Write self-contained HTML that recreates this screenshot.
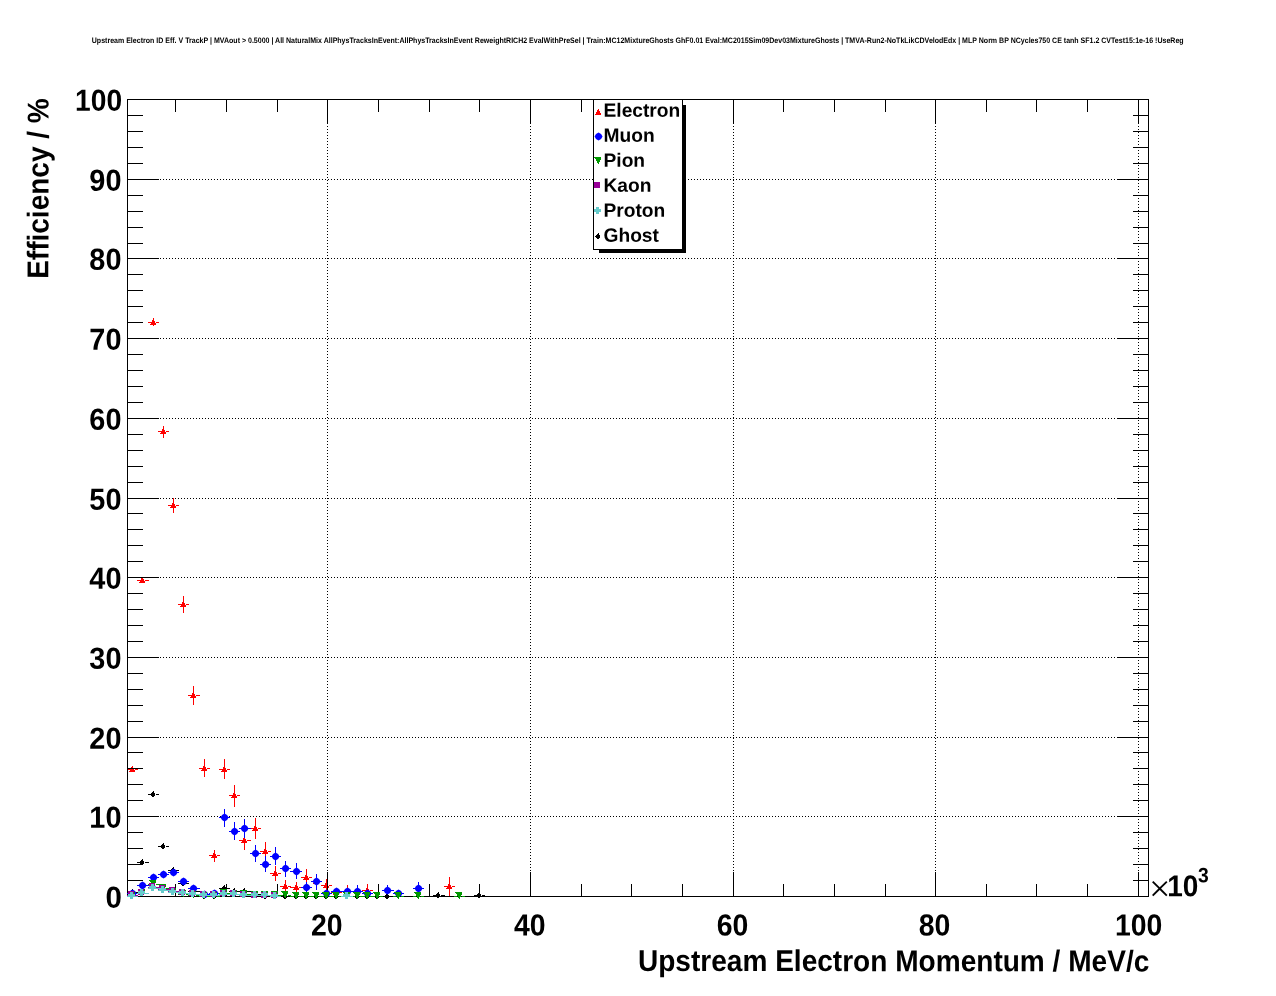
<!DOCTYPE html>
<html lang="en">
<head>
<meta charset="utf-8">
<title>Upstream Electron ID Efficiency vs Track Momentum</title>
<style>
html,body{margin:0;padding:0;background:#fff;}
body{width:1276px;height:996px;overflow:hidden;}
svg{display:block;}
text{font-family:"Liberation Sans",Arial,Helvetica,sans-serif;font-weight:bold;fill:#000;text-rendering:geometricPrecision;}
rect{shape-rendering:crispEdges;}
</style>
</head>
<body>
<svg width="1276" height="996" viewBox="0 0 1276 996">
<rect x="0" y="0" width="1276" height="996" fill="#fff"/>
<g stroke="#000" stroke-width="1" stroke-dasharray="1 2" shape-rendering="crispEdges"><line x1="160" y1="816.5" x2="1115" y2="816.5"/><line x1="160" y1="737.5" x2="1115" y2="737.5"/><line x1="160" y1="657.5" x2="1115" y2="657.5"/><line x1="160" y1="577.5" x2="1115" y2="577.5"/><line x1="160" y1="498.5" x2="1115" y2="498.5"/><line x1="160" y1="418.5" x2="1115" y2="418.5"/><line x1="160" y1="338.5" x2="1115" y2="338.5"/><line x1="160" y1="258.5" x2="1115" y2="258.5"/><line x1="160" y1="179.5" x2="1115" y2="179.5"/><line x1="327.5" y1="126" x2="327.5" y2="871"/><line x1="530.5" y1="126" x2="530.5" y2="871"/><line x1="733.5" y1="126" x2="733.5" y2="871"/><line x1="935.5" y1="126" x2="935.5" y2="871"/><line x1="1138.5" y1="126" x2="1138.5" y2="871"/></g>
<g id="electron">
<rect x="127" y="769" width="4" height="1" fill="#ff0000"/>
<rect x="135" y="769" width="3" height="1" fill="#ff0000"/>
<rect x="132" y="766" width="1" height="1" fill="#ff0000"/>
<path d="M131,767h2v1h-2zM131,768h3v1h-3zM131,769h3v1h-3zM130,770h5v1h-5zM129,771h6v1h-6z" fill="#ff0000" shape-rendering="crispEdges"/>
<rect x="137" y="580" width="4" height="1" fill="#ff0000"/>
<rect x="145" y="580" width="4" height="1" fill="#ff0000"/>
<path d="M141,578h2v1h-2zM141,579h3v1h-3zM141,580h3v1h-3zM140,581h5v1h-5zM139,582h6v1h-6z" fill="#ff0000" shape-rendering="crispEdges"/>
<rect x="148" y="322" width="4" height="1" fill="#ff0000"/>
<rect x="156" y="322" width="3" height="1" fill="#ff0000"/>
<rect x="153" y="318" width="1" height="2" fill="#ff0000"/>
<rect x="153" y="325" width="1" height="1" fill="#ff0000"/>
<path d="M152,320h2v1h-2zM152,321h3v1h-3zM152,322h3v1h-3zM151,323h5v1h-5zM150,324h6v1h-6z" fill="#ff0000" shape-rendering="crispEdges"/>
<rect x="158" y="431" width="4" height="1" fill="#ff0000"/>
<rect x="166" y="431" width="3" height="1" fill="#ff0000"/>
<rect x="163" y="426" width="1" height="3" fill="#ff0000"/>
<rect x="163" y="434" width="1" height="4" fill="#ff0000"/>
<path d="M162,429h2v1h-2zM162,430h3v1h-3zM162,431h3v1h-3zM161,432h5v1h-5zM160,433h6v1h-6z" fill="#ff0000" shape-rendering="crispEdges"/>
<rect x="168" y="505" width="4" height="1" fill="#ff0000"/>
<rect x="176" y="505" width="3" height="1" fill="#ff0000"/>
<rect x="173" y="498" width="1" height="5" fill="#ff0000"/>
<rect x="173" y="508" width="1" height="5" fill="#ff0000"/>
<path d="M172,503h2v1h-2zM172,504h3v1h-3zM172,505h3v1h-3zM171,506h5v1h-5zM170,507h6v1h-6z" fill="#ff0000" shape-rendering="crispEdges"/>
<rect x="178" y="604" width="4" height="1" fill="#ff0000"/>
<rect x="186" y="604" width="3" height="1" fill="#ff0000"/>
<rect x="183" y="596" width="1" height="6" fill="#ff0000"/>
<rect x="183" y="607" width="1" height="6" fill="#ff0000"/>
<path d="M182,602h2v1h-2zM182,603h3v1h-3zM182,604h3v1h-3zM181,605h5v1h-5zM180,606h6v1h-6z" fill="#ff0000" shape-rendering="crispEdges"/>
<rect x="188" y="695" width="4" height="1" fill="#ff0000"/>
<rect x="196" y="695" width="4" height="1" fill="#ff0000"/>
<rect x="193" y="686" width="1" height="7" fill="#ff0000"/>
<rect x="193" y="698" width="1" height="7" fill="#ff0000"/>
<path d="M192,693h2v1h-2zM192,694h3v1h-3zM192,695h3v1h-3zM191,696h5v1h-5zM190,697h6v1h-6z" fill="#ff0000" shape-rendering="crispEdges"/>
<rect x="199" y="768" width="4" height="1" fill="#ff0000"/>
<rect x="207" y="768" width="3" height="1" fill="#ff0000"/>
<rect x="204" y="759" width="1" height="7" fill="#ff0000"/>
<rect x="204" y="771" width="1" height="6" fill="#ff0000"/>
<path d="M203,766h2v1h-2zM203,767h3v1h-3zM203,768h3v1h-3zM202,769h5v1h-5zM201,770h6v1h-6z" fill="#ff0000" shape-rendering="crispEdges"/>
<rect x="209" y="855" width="4" height="1" fill="#ff0000"/>
<rect x="217" y="855" width="3" height="1" fill="#ff0000"/>
<rect x="214" y="850" width="1" height="3" fill="#ff0000"/>
<rect x="214" y="858" width="1" height="4" fill="#ff0000"/>
<path d="M213,853h2v1h-2zM213,854h3v1h-3zM213,855h3v1h-3zM212,856h5v1h-5zM211,857h6v1h-6z" fill="#ff0000" shape-rendering="crispEdges"/>
<rect x="219" y="769" width="4" height="1" fill="#ff0000"/>
<rect x="227" y="769" width="3" height="1" fill="#ff0000"/>
<rect x="224" y="759" width="1" height="8" fill="#ff0000"/>
<rect x="224" y="772" width="1" height="7" fill="#ff0000"/>
<path d="M223,767h2v1h-2zM223,768h3v1h-3zM223,769h3v1h-3zM222,770h5v1h-5zM221,771h6v1h-6z" fill="#ff0000" shape-rendering="crispEdges"/>
<rect x="229" y="795" width="4" height="1" fill="#ff0000"/>
<rect x="237" y="795" width="3" height="1" fill="#ff0000"/>
<rect x="234" y="785" width="1" height="8" fill="#ff0000"/>
<rect x="234" y="798" width="1" height="9" fill="#ff0000"/>
<path d="M233,793h2v1h-2zM233,794h3v1h-3zM233,795h3v1h-3zM232,796h5v1h-5zM231,797h6v1h-6z" fill="#ff0000" shape-rendering="crispEdges"/>
<rect x="239" y="840" width="4" height="1" fill="#ff0000"/>
<rect x="247" y="840" width="4" height="1" fill="#ff0000"/>
<rect x="244" y="832" width="1" height="6" fill="#ff0000"/>
<rect x="244" y="843" width="1" height="7" fill="#ff0000"/>
<path d="M243,838h2v1h-2zM243,839h3v1h-3zM243,840h3v1h-3zM242,841h5v1h-5zM241,842h6v1h-6z" fill="#ff0000" shape-rendering="crispEdges"/>
<rect x="250" y="828" width="4" height="1" fill="#ff0000"/>
<rect x="258" y="828" width="3" height="1" fill="#ff0000"/>
<rect x="255" y="818" width="1" height="8" fill="#ff0000"/>
<rect x="255" y="831" width="1" height="8" fill="#ff0000"/>
<path d="M254,826h2v1h-2zM254,827h3v1h-3zM254,828h3v1h-3zM253,829h5v1h-5zM252,830h6v1h-6z" fill="#ff0000" shape-rendering="crispEdges"/>
<rect x="260" y="851" width="4" height="1" fill="#ff0000"/>
<rect x="268" y="851" width="3" height="1" fill="#ff0000"/>
<rect x="265" y="842" width="1" height="7" fill="#ff0000"/>
<rect x="265" y="854" width="1" height="8" fill="#ff0000"/>
<path d="M264,849h2v1h-2zM264,850h3v1h-3zM264,851h3v1h-3zM263,852h5v1h-5zM262,853h6v1h-6z" fill="#ff0000" shape-rendering="crispEdges"/>
<rect x="270" y="873" width="4" height="1" fill="#ff0000"/>
<rect x="278" y="873" width="3" height="1" fill="#ff0000"/>
<rect x="275" y="866" width="1" height="5" fill="#ff0000"/>
<rect x="275" y="876" width="1" height="5" fill="#ff0000"/>
<path d="M274,871h2v1h-2zM274,872h3v1h-3zM274,873h3v1h-3zM273,874h5v1h-5zM272,875h6v1h-6z" fill="#ff0000" shape-rendering="crispEdges"/>
<rect x="280" y="886" width="4" height="1" fill="#ff0000"/>
<rect x="288" y="886" width="3" height="1" fill="#ff0000"/>
<rect x="285" y="880" width="1" height="4" fill="#ff0000"/>
<rect x="285" y="889" width="1" height="5" fill="#ff0000"/>
<path d="M284,884h2v1h-2zM284,885h3v1h-3zM284,886h3v1h-3zM283,887h5v1h-5zM282,888h6v1h-6z" fill="#ff0000" shape-rendering="crispEdges"/>
<rect x="290" y="887" width="5" height="1" fill="#ff0000"/>
<rect x="299" y="887" width="3" height="1" fill="#ff0000"/>
<rect x="296" y="882" width="1" height="3" fill="#ff0000"/>
<rect x="296" y="890" width="1" height="4" fill="#ff0000"/>
<path d="M295,885h2v1h-2zM295,886h3v1h-3zM295,887h3v1h-3zM294,888h5v1h-5zM293,889h6v1h-6z" fill="#ff0000" shape-rendering="crispEdges"/>
<rect x="301" y="877" width="4" height="1" fill="#ff0000"/>
<rect x="309" y="877" width="3" height="1" fill="#ff0000"/>
<rect x="306" y="869" width="1" height="6" fill="#ff0000"/>
<rect x="306" y="880" width="1" height="7" fill="#ff0000"/>
<path d="M305,875h2v1h-2zM305,876h3v1h-3zM305,877h3v1h-3zM304,878h5v1h-5zM303,879h6v1h-6z" fill="#ff0000" shape-rendering="crispEdges"/>
<rect x="311" y="881" width="4" height="1" fill="#ff0000"/>
<rect x="319" y="881" width="3" height="1" fill="#ff0000"/>
<rect x="316" y="874" width="1" height="5" fill="#ff0000"/>
<rect x="316" y="884" width="1" height="6" fill="#ff0000"/>
<path d="M315,879h2v1h-2zM315,880h3v1h-3zM315,881h3v1h-3zM314,882h5v1h-5zM313,883h6v1h-6z" fill="#ff0000" shape-rendering="crispEdges"/>
<rect x="321" y="885" width="4" height="1" fill="#ff0000"/>
<rect x="329" y="885" width="3" height="1" fill="#ff0000"/>
<rect x="326" y="879" width="1" height="4" fill="#ff0000"/>
<rect x="326" y="888" width="1" height="5" fill="#ff0000"/>
<path d="M325,883h2v1h-2zM325,884h3v1h-3zM325,885h3v1h-3zM324,886h5v1h-5zM323,887h6v1h-6z" fill="#ff0000" shape-rendering="crispEdges"/>
<rect x="331" y="892" width="4" height="1" fill="#ff0000"/>
<rect x="339" y="892" width="3" height="1" fill="#ff0000"/>
<rect x="336" y="889" width="1" height="1" fill="#ff0000"/>
<rect x="336" y="895" width="1" height="2" fill="#ff0000"/>
<path d="M335,890h2v1h-2zM335,891h3v1h-3zM335,892h3v1h-3zM334,893h5v1h-5zM333,894h6v1h-6z" fill="#ff0000" shape-rendering="crispEdges"/>
<rect x="341" y="891" width="5" height="1" fill="#ff0000"/>
<rect x="350" y="891" width="3" height="1" fill="#ff0000"/>
<rect x="347" y="885" width="1" height="4" fill="#ff0000"/>
<rect x="347" y="894" width="1" height="3" fill="#ff0000"/>
<path d="M346,889h2v1h-2zM346,890h3v1h-3zM346,891h3v1h-3zM345,892h5v1h-5zM344,893h6v1h-6z" fill="#ff0000" shape-rendering="crispEdges"/>
<rect x="362" y="890" width="4" height="1" fill="#ff0000"/>
<rect x="370" y="890" width="3" height="1" fill="#ff0000"/>
<rect x="367" y="884" width="1" height="4" fill="#ff0000"/>
<rect x="367" y="893" width="1" height="4" fill="#ff0000"/>
<path d="M366,888h2v1h-2zM366,889h3v1h-3zM366,890h3v1h-3zM365,891h5v1h-5zM364,892h6v1h-6z" fill="#ff0000" shape-rendering="crispEdges"/>
<rect x="444" y="886" width="4" height="1" fill="#ff0000"/>
<rect x="452" y="886" width="3" height="1" fill="#ff0000"/>
<rect x="449" y="877" width="1" height="7" fill="#ff0000"/>
<rect x="449" y="889" width="1" height="8" fill="#ff0000"/>
<path d="M448,884h2v1h-2zM448,885h3v1h-3zM448,886h3v1h-3zM447,887h5v1h-5zM446,888h6v1h-6z" fill="#ff0000" shape-rendering="crispEdges"/>
</g>
<g id="frame">
<rect x="127" y="99" width="1022" height="1" fill="#000"/>
<rect x="127" y="896" width="1022" height="1" fill="#000"/>
<rect x="127" y="99" width="1" height="798" fill="#000"/>
<rect x="1148" y="99" width="1" height="798" fill="#000"/>
<rect x="127" y="880" width="16" height="1" fill="#000"/>
<rect x="1133" y="880" width="16" height="1" fill="#000"/>
<rect x="127" y="864" width="16" height="1" fill="#000"/>
<rect x="1133" y="864" width="16" height="1" fill="#000"/>
<rect x="127" y="848" width="16" height="1" fill="#000"/>
<rect x="1133" y="848" width="16" height="1" fill="#000"/>
<rect x="127" y="832" width="16" height="1" fill="#000"/>
<rect x="1133" y="832" width="16" height="1" fill="#000"/>
<rect x="127" y="816" width="32" height="1" fill="#000"/>
<rect x="1117" y="816" width="32" height="1" fill="#000"/>
<rect x="127" y="800" width="16" height="1" fill="#000"/>
<rect x="1133" y="800" width="16" height="1" fill="#000"/>
<rect x="127" y="784" width="16" height="1" fill="#000"/>
<rect x="1133" y="784" width="16" height="1" fill="#000"/>
<rect x="127" y="768" width="16" height="1" fill="#000"/>
<rect x="1133" y="768" width="16" height="1" fill="#000"/>
<rect x="127" y="752" width="16" height="1" fill="#000"/>
<rect x="1133" y="752" width="16" height="1" fill="#000"/>
<rect x="127" y="737" width="32" height="1" fill="#000"/>
<rect x="1117" y="737" width="32" height="1" fill="#000"/>
<rect x="127" y="721" width="16" height="1" fill="#000"/>
<rect x="1133" y="721" width="16" height="1" fill="#000"/>
<rect x="127" y="705" width="16" height="1" fill="#000"/>
<rect x="1133" y="705" width="16" height="1" fill="#000"/>
<rect x="127" y="689" width="16" height="1" fill="#000"/>
<rect x="1133" y="689" width="16" height="1" fill="#000"/>
<rect x="127" y="673" width="16" height="1" fill="#000"/>
<rect x="1133" y="673" width="16" height="1" fill="#000"/>
<rect x="127" y="657" width="32" height="1" fill="#000"/>
<rect x="1117" y="657" width="32" height="1" fill="#000"/>
<rect x="127" y="641" width="16" height="1" fill="#000"/>
<rect x="1133" y="641" width="16" height="1" fill="#000"/>
<rect x="127" y="625" width="16" height="1" fill="#000"/>
<rect x="1133" y="625" width="16" height="1" fill="#000"/>
<rect x="127" y="609" width="16" height="1" fill="#000"/>
<rect x="1133" y="609" width="16" height="1" fill="#000"/>
<rect x="127" y="593" width="16" height="1" fill="#000"/>
<rect x="1133" y="593" width="16" height="1" fill="#000"/>
<rect x="127" y="577" width="32" height="1" fill="#000"/>
<rect x="1117" y="577" width="32" height="1" fill="#000"/>
<rect x="127" y="561" width="16" height="1" fill="#000"/>
<rect x="1133" y="561" width="16" height="1" fill="#000"/>
<rect x="127" y="545" width="16" height="1" fill="#000"/>
<rect x="1133" y="545" width="16" height="1" fill="#000"/>
<rect x="127" y="529" width="16" height="1" fill="#000"/>
<rect x="1133" y="529" width="16" height="1" fill="#000"/>
<rect x="127" y="513" width="16" height="1" fill="#000"/>
<rect x="1133" y="513" width="16" height="1" fill="#000"/>
<rect x="127" y="498" width="32" height="1" fill="#000"/>
<rect x="1117" y="498" width="32" height="1" fill="#000"/>
<rect x="127" y="482" width="16" height="1" fill="#000"/>
<rect x="1133" y="482" width="16" height="1" fill="#000"/>
<rect x="127" y="466" width="16" height="1" fill="#000"/>
<rect x="1133" y="466" width="16" height="1" fill="#000"/>
<rect x="127" y="450" width="16" height="1" fill="#000"/>
<rect x="1133" y="450" width="16" height="1" fill="#000"/>
<rect x="127" y="434" width="16" height="1" fill="#000"/>
<rect x="1133" y="434" width="16" height="1" fill="#000"/>
<rect x="127" y="418" width="32" height="1" fill="#000"/>
<rect x="1117" y="418" width="32" height="1" fill="#000"/>
<rect x="127" y="402" width="16" height="1" fill="#000"/>
<rect x="1133" y="402" width="16" height="1" fill="#000"/>
<rect x="127" y="386" width="16" height="1" fill="#000"/>
<rect x="1133" y="386" width="16" height="1" fill="#000"/>
<rect x="127" y="370" width="16" height="1" fill="#000"/>
<rect x="1133" y="370" width="16" height="1" fill="#000"/>
<rect x="127" y="354" width="16" height="1" fill="#000"/>
<rect x="1133" y="354" width="16" height="1" fill="#000"/>
<rect x="127" y="338" width="32" height="1" fill="#000"/>
<rect x="1117" y="338" width="32" height="1" fill="#000"/>
<rect x="127" y="322" width="16" height="1" fill="#000"/>
<rect x="1133" y="322" width="16" height="1" fill="#000"/>
<rect x="127" y="306" width="16" height="1" fill="#000"/>
<rect x="1133" y="306" width="16" height="1" fill="#000"/>
<rect x="127" y="290" width="16" height="1" fill="#000"/>
<rect x="1133" y="290" width="16" height="1" fill="#000"/>
<rect x="127" y="274" width="16" height="1" fill="#000"/>
<rect x="1133" y="274" width="16" height="1" fill="#000"/>
<rect x="127" y="258" width="32" height="1" fill="#000"/>
<rect x="1117" y="258" width="32" height="1" fill="#000"/>
<rect x="127" y="243" width="16" height="1" fill="#000"/>
<rect x="1133" y="243" width="16" height="1" fill="#000"/>
<rect x="127" y="227" width="16" height="1" fill="#000"/>
<rect x="1133" y="227" width="16" height="1" fill="#000"/>
<rect x="127" y="211" width="16" height="1" fill="#000"/>
<rect x="1133" y="211" width="16" height="1" fill="#000"/>
<rect x="127" y="195" width="16" height="1" fill="#000"/>
<rect x="1133" y="195" width="16" height="1" fill="#000"/>
<rect x="127" y="179" width="32" height="1" fill="#000"/>
<rect x="1117" y="179" width="32" height="1" fill="#000"/>
<rect x="127" y="163" width="16" height="1" fill="#000"/>
<rect x="1133" y="163" width="16" height="1" fill="#000"/>
<rect x="127" y="147" width="16" height="1" fill="#000"/>
<rect x="1133" y="147" width="16" height="1" fill="#000"/>
<rect x="127" y="131" width="16" height="1" fill="#000"/>
<rect x="1133" y="131" width="16" height="1" fill="#000"/>
<rect x="127" y="115" width="16" height="1" fill="#000"/>
<rect x="1133" y="115" width="16" height="1" fill="#000"/>
<rect x="175" y="884" width="1" height="13" fill="#000"/>
<rect x="175" y="99" width="1" height="13" fill="#000"/>
<rect x="226" y="884" width="1" height="13" fill="#000"/>
<rect x="226" y="99" width="1" height="13" fill="#000"/>
<rect x="277" y="884" width="1" height="13" fill="#000"/>
<rect x="277" y="99" width="1" height="13" fill="#000"/>
<rect x="327" y="872" width="1" height="25" fill="#000"/>
<rect x="327" y="99" width="1" height="25" fill="#000"/>
<rect x="378" y="884" width="1" height="13" fill="#000"/>
<rect x="378" y="99" width="1" height="13" fill="#000"/>
<rect x="429" y="884" width="1" height="13" fill="#000"/>
<rect x="429" y="99" width="1" height="13" fill="#000"/>
<rect x="479" y="884" width="1" height="13" fill="#000"/>
<rect x="479" y="99" width="1" height="13" fill="#000"/>
<rect x="530" y="872" width="1" height="25" fill="#000"/>
<rect x="530" y="99" width="1" height="25" fill="#000"/>
<rect x="581" y="884" width="1" height="13" fill="#000"/>
<rect x="581" y="99" width="1" height="13" fill="#000"/>
<rect x="631" y="884" width="1" height="13" fill="#000"/>
<rect x="631" y="99" width="1" height="13" fill="#000"/>
<rect x="682" y="884" width="1" height="13" fill="#000"/>
<rect x="682" y="99" width="1" height="13" fill="#000"/>
<rect x="733" y="872" width="1" height="25" fill="#000"/>
<rect x="733" y="99" width="1" height="25" fill="#000"/>
<rect x="783" y="884" width="1" height="13" fill="#000"/>
<rect x="783" y="99" width="1" height="13" fill="#000"/>
<rect x="834" y="884" width="1" height="13" fill="#000"/>
<rect x="834" y="99" width="1" height="13" fill="#000"/>
<rect x="885" y="884" width="1" height="13" fill="#000"/>
<rect x="885" y="99" width="1" height="13" fill="#000"/>
<rect x="935" y="872" width="1" height="25" fill="#000"/>
<rect x="935" y="99" width="1" height="25" fill="#000"/>
<rect x="986" y="884" width="1" height="13" fill="#000"/>
<rect x="986" y="99" width="1" height="13" fill="#000"/>
<rect x="1036" y="884" width="1" height="13" fill="#000"/>
<rect x="1036" y="99" width="1" height="13" fill="#000"/>
<rect x="1087" y="884" width="1" height="13" fill="#000"/>
<rect x="1087" y="99" width="1" height="13" fill="#000"/>
<rect x="1138" y="872" width="1" height="25" fill="#000"/>
<rect x="1138" y="99" width="1" height="25" fill="#000"/>
</g>
<g id="ghost">
<rect x="127" y="892" width="3" height="1" fill="#000000"/>
<rect x="135" y="892" width="3" height="1" fill="#000000"/>
<path d="M132,889h1v1h-1zM131,890h2v1h-2zM130,891h4v1h-4zM130,892h4v1h-4zM130,893h4v1h-4zM131,894h2v1h-2z" fill="#000000" shape-rendering="crispEdges"/>
<rect x="137" y="862" width="3" height="1" fill="#000000"/>
<rect x="145" y="862" width="4" height="1" fill="#000000"/>
<path d="M142,859h1v1h-1zM141,860h2v1h-2zM140,861h4v1h-4zM140,862h4v1h-4zM140,863h4v1h-4zM141,864h2v1h-2z" fill="#000000" shape-rendering="crispEdges"/>
<rect x="148" y="794" width="3" height="1" fill="#000000"/>
<rect x="156" y="794" width="3" height="1" fill="#000000"/>
<path d="M153,791h1v1h-1zM152,792h2v1h-2zM151,793h4v1h-4zM151,794h4v1h-4zM151,795h4v1h-4zM152,796h2v1h-2z" fill="#000000" shape-rendering="crispEdges"/>
<rect x="158" y="846" width="3" height="1" fill="#000000"/>
<rect x="166" y="846" width="3" height="1" fill="#000000"/>
<path d="M163,843h1v1h-1zM162,844h2v1h-2zM161,845h4v1h-4zM161,846h4v1h-4zM161,847h4v1h-4zM162,848h2v1h-2z" fill="#000000" shape-rendering="crispEdges"/>
<rect x="168" y="870" width="3" height="1" fill="#000000"/>
<rect x="176" y="870" width="3" height="1" fill="#000000"/>
<path d="M173,867h1v1h-1zM172,868h2v1h-2zM171,869h4v1h-4zM171,870h4v1h-4zM171,871h4v1h-4zM172,872h2v1h-2z" fill="#000000" shape-rendering="crispEdges"/>
<rect x="178" y="883" width="3" height="1" fill="#000000"/>
<rect x="186" y="883" width="3" height="1" fill="#000000"/>
<path d="M183,880h1v1h-1zM182,881h2v1h-2zM181,882h4v1h-4zM181,883h4v1h-4zM181,884h4v1h-4zM182,885h2v1h-2z" fill="#000000" shape-rendering="crispEdges"/>
<rect x="188" y="891" width="3" height="1" fill="#000000"/>
<rect x="196" y="891" width="4" height="1" fill="#000000"/>
<path d="M193,888h1v1h-1zM192,889h2v1h-2zM191,890h4v1h-4zM191,891h4v1h-4zM191,892h4v1h-4zM192,893h2v1h-2z" fill="#000000" shape-rendering="crispEdges"/>
<rect x="199" y="896" width="3" height="1" fill="#000000"/>
<rect x="207" y="896" width="3" height="1" fill="#000000"/>
<path d="M204,893h1v1h-1zM203,894h2v1h-2zM202,895h4v1h-4zM202,896h4v1h-4zM202,897h4v1h-4zM203,898h2v1h-2z" fill="#000000" shape-rendering="crispEdges"/>
<rect x="209" y="896" width="3" height="1" fill="#000000"/>
<rect x="217" y="896" width="3" height="1" fill="#000000"/>
<path d="M214,893h1v1h-1zM213,894h2v1h-2zM212,895h4v1h-4zM212,896h4v1h-4zM212,897h4v1h-4zM213,898h2v1h-2z" fill="#000000" shape-rendering="crispEdges"/>
<rect x="219" y="888" width="3" height="1" fill="#000000"/>
<rect x="227" y="888" width="3" height="1" fill="#000000"/>
<path d="M224,885h1v1h-1zM223,886h2v1h-2zM222,887h4v1h-4zM222,888h4v1h-4zM222,889h4v1h-4zM223,890h2v1h-2z" fill="#000000" shape-rendering="crispEdges"/>
<rect x="229" y="891" width="3" height="1" fill="#000000"/>
<rect x="237" y="891" width="3" height="1" fill="#000000"/>
<path d="M234,888h1v1h-1zM233,889h2v1h-2zM232,890h4v1h-4zM232,891h4v1h-4zM232,892h4v1h-4zM233,893h2v1h-2z" fill="#000000" shape-rendering="crispEdges"/>
<rect x="239" y="891" width="3" height="1" fill="#000000"/>
<rect x="247" y="891" width="4" height="1" fill="#000000"/>
<path d="M244,888h1v1h-1zM243,889h2v1h-2zM242,890h4v1h-4zM242,891h4v1h-4zM242,892h4v1h-4zM243,893h2v1h-2z" fill="#000000" shape-rendering="crispEdges"/>
<rect x="250" y="894" width="3" height="1" fill="#000000"/>
<rect x="258" y="894" width="3" height="1" fill="#000000"/>
<path d="M255,891h1v1h-1zM254,892h2v1h-2zM253,893h4v1h-4zM253,894h4v1h-4zM253,895h4v1h-4zM254,896h2v1h-2z" fill="#000000" shape-rendering="crispEdges"/>
<rect x="260" y="896" width="3" height="1" fill="#000000"/>
<rect x="268" y="896" width="3" height="1" fill="#000000"/>
<path d="M265,893h1v1h-1zM264,894h2v1h-2zM263,895h4v1h-4zM263,896h4v1h-4zM263,897h4v1h-4zM264,898h2v1h-2z" fill="#000000" shape-rendering="crispEdges"/>
<rect x="270" y="896" width="3" height="1" fill="#000000"/>
<rect x="278" y="896" width="3" height="1" fill="#000000"/>
<path d="M275,893h1v1h-1zM274,894h2v1h-2zM273,895h4v1h-4zM273,896h4v1h-4zM273,897h4v1h-4zM274,898h2v1h-2z" fill="#000000" shape-rendering="crispEdges"/>
<rect x="280" y="896" width="3" height="1" fill="#000000"/>
<rect x="288" y="896" width="3" height="1" fill="#000000"/>
<path d="M285,893h1v1h-1zM284,894h2v1h-2zM283,895h4v1h-4zM283,896h4v1h-4zM283,897h4v1h-4zM284,898h2v1h-2z" fill="#000000" shape-rendering="crispEdges"/>
<rect x="290" y="896" width="4" height="1" fill="#000000"/>
<rect x="299" y="896" width="3" height="1" fill="#000000"/>
<path d="M296,893h1v1h-1zM295,894h2v1h-2zM294,895h4v1h-4zM294,896h4v1h-4zM294,897h4v1h-4zM295,898h2v1h-2z" fill="#000000" shape-rendering="crispEdges"/>
<rect x="301" y="896" width="3" height="1" fill="#000000"/>
<rect x="309" y="896" width="3" height="1" fill="#000000"/>
<path d="M306,893h1v1h-1zM305,894h2v1h-2zM304,895h4v1h-4zM304,896h4v1h-4zM304,897h4v1h-4zM305,898h2v1h-2z" fill="#000000" shape-rendering="crispEdges"/>
<rect x="311" y="896" width="3" height="1" fill="#000000"/>
<rect x="319" y="896" width="3" height="1" fill="#000000"/>
<path d="M316,893h1v1h-1zM315,894h2v1h-2zM314,895h4v1h-4zM314,896h4v1h-4zM314,897h4v1h-4zM315,898h2v1h-2z" fill="#000000" shape-rendering="crispEdges"/>
<rect x="321" y="896" width="3" height="1" fill="#000000"/>
<rect x="329" y="896" width="3" height="1" fill="#000000"/>
<path d="M326,893h1v1h-1zM325,894h2v1h-2zM324,895h4v1h-4zM324,896h4v1h-4zM324,897h4v1h-4zM325,898h2v1h-2z" fill="#000000" shape-rendering="crispEdges"/>
<rect x="331" y="896" width="3" height="1" fill="#000000"/>
<rect x="339" y="896" width="3" height="1" fill="#000000"/>
<path d="M336,893h1v1h-1zM335,894h2v1h-2zM334,895h4v1h-4zM334,896h4v1h-4zM334,897h4v1h-4zM335,898h2v1h-2z" fill="#000000" shape-rendering="crispEdges"/>
<rect x="352" y="896" width="3" height="1" fill="#000000"/>
<rect x="360" y="896" width="3" height="1" fill="#000000"/>
<path d="M357,893h1v1h-1zM356,894h2v1h-2zM355,895h4v1h-4zM355,896h4v1h-4zM355,897h4v1h-4zM356,898h2v1h-2z" fill="#000000" shape-rendering="crispEdges"/>
<rect x="362" y="896" width="3" height="1" fill="#000000"/>
<rect x="370" y="896" width="3" height="1" fill="#000000"/>
<path d="M367,893h1v1h-1zM366,894h2v1h-2zM365,895h4v1h-4zM365,896h4v1h-4zM365,897h4v1h-4zM366,898h2v1h-2z" fill="#000000" shape-rendering="crispEdges"/>
<rect x="372" y="896" width="3" height="1" fill="#000000"/>
<rect x="380" y="896" width="3" height="1" fill="#000000"/>
<path d="M377,893h1v1h-1zM376,894h2v1h-2zM375,895h4v1h-4zM375,896h4v1h-4zM375,897h4v1h-4zM376,898h2v1h-2z" fill="#000000" shape-rendering="crispEdges"/>
<rect x="382" y="896" width="3" height="1" fill="#000000"/>
<rect x="390" y="896" width="4" height="1" fill="#000000"/>
<path d="M387,893h1v1h-1zM386,894h2v1h-2zM385,895h4v1h-4zM385,896h4v1h-4zM385,897h4v1h-4zM386,898h2v1h-2z" fill="#000000" shape-rendering="crispEdges"/>
<rect x="433" y="895" width="3" height="1" fill="#000000"/>
<rect x="441" y="895" width="4" height="1" fill="#000000"/>
<path d="M438,892h1v1h-1zM437,893h2v1h-2zM436,894h4v1h-4zM436,895h4v1h-4zM436,896h4v1h-4zM437,897h2v1h-2z" fill="#000000" shape-rendering="crispEdges"/>
<rect x="474" y="895" width="3" height="1" fill="#000000"/>
<rect x="482" y="895" width="3" height="1" fill="#000000"/>
<path d="M479,892h1v1h-1zM478,893h2v1h-2zM477,894h4v1h-4zM477,895h4v1h-4zM477,896h4v1h-4zM478,897h2v1h-2z" fill="#000000" shape-rendering="crispEdges"/>
</g><g id="muon">
<rect x="127" y="893" width="2" height="1" fill="#0000ff"/>
<rect x="136" y="893" width="2" height="1" fill="#0000ff"/>
<path transform="translate(132.55,893.40)" d="M0,-4.0Q3.05,-3.05 4.0,0Q3.05,3.05 0,4.0Q-3.05,3.05 -4.0,0Q-3.05,-3.05 0,-4.0z" fill="#0000ff"/>
<rect x="137" y="885" width="2" height="1" fill="#0000ff"/>
<rect x="146" y="885" width="3" height="1" fill="#0000ff"/>
<path transform="translate(142.55,885.40)" d="M0,-4.0Q3.05,-3.05 4.0,0Q3.05,3.05 0,4.0Q-3.05,3.05 -4.0,0Q-3.05,-3.05 0,-4.0z" fill="#0000ff"/>
<rect x="148" y="877" width="2" height="1" fill="#0000ff"/>
<rect x="157" y="877" width="2" height="1" fill="#0000ff"/>
<path transform="translate(153.55,877.40)" d="M0,-4.0Q3.05,-3.05 4.0,0Q3.05,3.05 0,4.0Q-3.05,3.05 -4.0,0Q-3.05,-3.05 0,-4.0z" fill="#0000ff"/>
<rect x="158" y="874" width="2" height="1" fill="#0000ff"/>
<rect x="167" y="874" width="2" height="1" fill="#0000ff"/>
<path transform="translate(163.55,874.40)" d="M0,-4.0Q3.05,-3.05 4.0,0Q3.05,3.05 0,4.0Q-3.05,3.05 -4.0,0Q-3.05,-3.05 0,-4.0z" fill="#0000ff"/>
<rect x="168" y="872" width="2" height="1" fill="#0000ff"/>
<rect x="177" y="872" width="2" height="1" fill="#0000ff"/>
<path transform="translate(173.55,872.40)" d="M0,-4.0Q3.05,-3.05 4.0,0Q3.05,3.05 0,4.0Q-3.05,3.05 -4.0,0Q-3.05,-3.05 0,-4.0z" fill="#0000ff"/>
<rect x="178" y="881" width="2" height="1" fill="#0000ff"/>
<rect x="187" y="881" width="2" height="1" fill="#0000ff"/>
<path transform="translate(183.55,881.40)" d="M0,-4.0Q3.05,-3.05 4.0,0Q3.05,3.05 0,4.0Q-3.05,3.05 -4.0,0Q-3.05,-3.05 0,-4.0z" fill="#0000ff"/>
<rect x="188" y="888" width="2" height="1" fill="#0000ff"/>
<rect x="197" y="888" width="3" height="1" fill="#0000ff"/>
<path transform="translate(193.55,888.40)" d="M0,-4.0Q3.05,-3.05 4.0,0Q3.05,3.05 0,4.0Q-3.05,3.05 -4.0,0Q-3.05,-3.05 0,-4.0z" fill="#0000ff"/>
<rect x="199" y="894" width="2" height="1" fill="#0000ff"/>
<rect x="208" y="894" width="2" height="1" fill="#0000ff"/>
<path transform="translate(204.55,894.40)" d="M0,-4.0Q3.05,-3.05 4.0,0Q3.05,3.05 0,4.0Q-3.05,3.05 -4.0,0Q-3.05,-3.05 0,-4.0z" fill="#0000ff"/>
<rect x="209" y="893" width="2" height="1" fill="#0000ff"/>
<rect x="218" y="893" width="2" height="1" fill="#0000ff"/>
<path transform="translate(214.55,893.40)" d="M0,-4.0Q3.05,-3.05 4.0,0Q3.05,3.05 0,4.0Q-3.05,3.05 -4.0,0Q-3.05,-3.05 0,-4.0z" fill="#0000ff"/>
<rect x="219" y="817" width="2" height="1" fill="#0000ff"/>
<rect x="228" y="817" width="2" height="1" fill="#0000ff"/>
<rect x="224" y="809" width="1" height="5" fill="#0000ff"/>
<rect x="224" y="821" width="1" height="6" fill="#0000ff"/>
<path transform="translate(224.55,817.40)" d="M0,-4.0Q3.05,-3.05 4.0,0Q3.05,3.05 0,4.0Q-3.05,3.05 -4.0,0Q-3.05,-3.05 0,-4.0z" fill="#0000ff"/>
<rect x="229" y="831" width="2" height="1" fill="#0000ff"/>
<rect x="238" y="831" width="2" height="1" fill="#0000ff"/>
<rect x="234" y="822" width="1" height="6" fill="#0000ff"/>
<rect x="234" y="835" width="1" height="5" fill="#0000ff"/>
<path transform="translate(234.55,831.40)" d="M0,-4.0Q3.05,-3.05 4.0,0Q3.05,3.05 0,4.0Q-3.05,3.05 -4.0,0Q-3.05,-3.05 0,-4.0z" fill="#0000ff"/>
<rect x="239" y="828" width="2" height="1" fill="#0000ff"/>
<rect x="248" y="828" width="3" height="1" fill="#0000ff"/>
<rect x="244" y="819" width="1" height="6" fill="#0000ff"/>
<rect x="244" y="832" width="1" height="6" fill="#0000ff"/>
<path transform="translate(244.55,828.40)" d="M0,-4.0Q3.05,-3.05 4.0,0Q3.05,3.05 0,4.0Q-3.05,3.05 -4.0,0Q-3.05,-3.05 0,-4.0z" fill="#0000ff"/>
<rect x="250" y="853" width="2" height="1" fill="#0000ff"/>
<rect x="259" y="853" width="2" height="1" fill="#0000ff"/>
<rect x="255" y="845" width="1" height="5" fill="#0000ff"/>
<rect x="255" y="857" width="1" height="5" fill="#0000ff"/>
<path transform="translate(255.55,853.40)" d="M0,-4.0Q3.05,-3.05 4.0,0Q3.05,3.05 0,4.0Q-3.05,3.05 -4.0,0Q-3.05,-3.05 0,-4.0z" fill="#0000ff"/>
<rect x="260" y="864" width="2" height="1" fill="#0000ff"/>
<rect x="269" y="864" width="2" height="1" fill="#0000ff"/>
<rect x="265" y="856" width="1" height="5" fill="#0000ff"/>
<rect x="265" y="868" width="1" height="4" fill="#0000ff"/>
<path transform="translate(265.55,864.40)" d="M0,-4.0Q3.05,-3.05 4.0,0Q3.05,3.05 0,4.0Q-3.05,3.05 -4.0,0Q-3.05,-3.05 0,-4.0z" fill="#0000ff"/>
<rect x="270" y="856" width="2" height="1" fill="#0000ff"/>
<rect x="279" y="856" width="2" height="1" fill="#0000ff"/>
<rect x="275" y="847" width="1" height="6" fill="#0000ff"/>
<rect x="275" y="860" width="1" height="5" fill="#0000ff"/>
<path transform="translate(275.55,856.40)" d="M0,-4.0Q3.05,-3.05 4.0,0Q3.05,3.05 0,4.0Q-3.05,3.05 -4.0,0Q-3.05,-3.05 0,-4.0z" fill="#0000ff"/>
<rect x="280" y="868" width="2" height="1" fill="#0000ff"/>
<rect x="289" y="868" width="2" height="1" fill="#0000ff"/>
<rect x="285" y="861" width="1" height="4" fill="#0000ff"/>
<rect x="285" y="872" width="1" height="5" fill="#0000ff"/>
<path transform="translate(285.55,868.40)" d="M0,-4.0Q3.05,-3.05 4.0,0Q3.05,3.05 0,4.0Q-3.05,3.05 -4.0,0Q-3.05,-3.05 0,-4.0z" fill="#0000ff"/>
<rect x="290" y="871" width="3" height="1" fill="#0000ff"/>
<rect x="300" y="871" width="2" height="1" fill="#0000ff"/>
<rect x="296" y="863" width="1" height="5" fill="#0000ff"/>
<rect x="296" y="875" width="1" height="4" fill="#0000ff"/>
<path transform="translate(296.55,871.40)" d="M0,-4.0Q3.05,-3.05 4.0,0Q3.05,3.05 0,4.0Q-3.05,3.05 -4.0,0Q-3.05,-3.05 0,-4.0z" fill="#0000ff"/>
<rect x="301" y="887" width="2" height="1" fill="#0000ff"/>
<rect x="310" y="887" width="2" height="1" fill="#0000ff"/>
<rect x="306" y="882" width="1" height="2" fill="#0000ff"/>
<rect x="306" y="891" width="1" height="2" fill="#0000ff"/>
<path transform="translate(306.55,887.40)" d="M0,-4.0Q3.05,-3.05 4.0,0Q3.05,3.05 0,4.0Q-3.05,3.05 -4.0,0Q-3.05,-3.05 0,-4.0z" fill="#0000ff"/>
<rect x="311" y="881" width="2" height="1" fill="#0000ff"/>
<rect x="320" y="881" width="2" height="1" fill="#0000ff"/>
<rect x="316" y="874" width="1" height="4" fill="#0000ff"/>
<rect x="316" y="885" width="1" height="5" fill="#0000ff"/>
<path transform="translate(316.55,881.40)" d="M0,-4.0Q3.05,-3.05 4.0,0Q3.05,3.05 0,4.0Q-3.05,3.05 -4.0,0Q-3.05,-3.05 0,-4.0z" fill="#0000ff"/>
<rect x="321" y="893" width="2" height="1" fill="#0000ff"/>
<rect x="330" y="893" width="2" height="1" fill="#0000ff"/>
<path transform="translate(326.55,893.40)" d="M0,-4.0Q3.05,-3.05 4.0,0Q3.05,3.05 0,4.0Q-3.05,3.05 -4.0,0Q-3.05,-3.05 0,-4.0z" fill="#0000ff"/>
<rect x="331" y="891" width="2" height="1" fill="#0000ff"/>
<rect x="340" y="891" width="2" height="1" fill="#0000ff"/>
<path transform="translate(336.55,891.40)" d="M0,-4.0Q3.05,-3.05 4.0,0Q3.05,3.05 0,4.0Q-3.05,3.05 -4.0,0Q-3.05,-3.05 0,-4.0z" fill="#0000ff"/>
<rect x="341" y="891" width="3" height="1" fill="#0000ff"/>
<rect x="351" y="891" width="2" height="1" fill="#0000ff"/>
<path transform="translate(347.55,891.40)" d="M0,-4.0Q3.05,-3.05 4.0,0Q3.05,3.05 0,4.0Q-3.05,3.05 -4.0,0Q-3.05,-3.05 0,-4.0z" fill="#0000ff"/>
<rect x="352" y="891" width="2" height="1" fill="#0000ff"/>
<rect x="361" y="891" width="2" height="1" fill="#0000ff"/>
<rect x="357" y="885" width="1" height="3" fill="#0000ff"/>
<rect x="357" y="895" width="1" height="2" fill="#0000ff"/>
<path transform="translate(357.55,891.40)" d="M0,-4.0Q3.05,-3.05 4.0,0Q3.05,3.05 0,4.0Q-3.05,3.05 -4.0,0Q-3.05,-3.05 0,-4.0z" fill="#0000ff"/>
<rect x="362" y="893" width="2" height="1" fill="#0000ff"/>
<rect x="371" y="893" width="2" height="1" fill="#0000ff"/>
<path transform="translate(367.55,893.40)" d="M0,-4.0Q3.05,-3.05 4.0,0Q3.05,3.05 0,4.0Q-3.05,3.05 -4.0,0Q-3.05,-3.05 0,-4.0z" fill="#0000ff"/>
<rect x="382" y="890" width="2" height="1" fill="#0000ff"/>
<rect x="391" y="890" width="3" height="1" fill="#0000ff"/>
<rect x="387" y="885" width="1" height="2" fill="#0000ff"/>
<path transform="translate(387.55,890.40)" d="M0,-4.0Q3.05,-3.05 4.0,0Q3.05,3.05 0,4.0Q-3.05,3.05 -4.0,0Q-3.05,-3.05 0,-4.0z" fill="#0000ff"/>
<rect x="393" y="893" width="2" height="1" fill="#0000ff"/>
<rect x="402" y="893" width="2" height="1" fill="#0000ff"/>
<path transform="translate(398.55,893.40)" d="M0,-4.0Q3.05,-3.05 4.0,0Q3.05,3.05 0,4.0Q-3.05,3.05 -4.0,0Q-3.05,-3.05 0,-4.0z" fill="#0000ff"/>
<rect x="413" y="888" width="2" height="1" fill="#0000ff"/>
<rect x="422" y="888" width="2" height="1" fill="#0000ff"/>
<rect x="418" y="882" width="1" height="3" fill="#0000ff"/>
<rect x="418" y="892" width="1" height="3" fill="#0000ff"/>
<path transform="translate(418.55,888.40)" d="M0,-4.0Q3.05,-3.05 4.0,0Q3.05,3.05 0,4.0Q-3.05,3.05 -4.0,0Q-3.05,-3.05 0,-4.0z" fill="#0000ff"/>
</g><g id="pion">
<rect x="127" y="896" width="3" height="1" fill="#009900"/>
<rect x="135" y="896" width="3" height="1" fill="#009900"/>
<path d="M128,892h7v1h-7zM129,893h6v1h-6zM130,894h5v1h-5zM130,895h4v1h-4zM131,896h3v1h-3zM131,897h2v1h-2zM132,898h1v1h-1z" fill="#009900" shape-rendering="crispEdges"/>
<rect x="137" y="893" width="3" height="1" fill="#009900"/>
<rect x="145" y="893" width="4" height="1" fill="#009900"/>
<path d="M138,889h7v1h-7zM139,890h6v1h-6zM140,891h5v1h-5zM140,892h4v1h-4zM141,893h3v1h-3zM141,894h2v1h-2zM142,895h1v1h-1z" fill="#009900" shape-rendering="crispEdges"/>
<rect x="148" y="884" width="3" height="1" fill="#009900"/>
<rect x="156" y="884" width="3" height="1" fill="#009900"/>
<path d="M149,880h7v1h-7zM150,881h6v1h-6zM151,882h5v1h-5zM151,883h4v1h-4zM152,884h3v1h-3zM152,885h2v1h-2zM153,886h1v1h-1z" fill="#009900" shape-rendering="crispEdges"/>
<rect x="158" y="888" width="3" height="1" fill="#009900"/>
<rect x="166" y="888" width="3" height="1" fill="#009900"/>
<path d="M159,884h7v1h-7zM160,885h6v1h-6zM161,886h5v1h-5zM161,887h4v1h-4zM162,888h3v1h-3zM162,889h2v1h-2zM163,890h1v1h-1z" fill="#009900" shape-rendering="crispEdges"/>
<rect x="168" y="892" width="3" height="1" fill="#009900"/>
<rect x="176" y="892" width="3" height="1" fill="#009900"/>
<path d="M169,888h7v1h-7zM170,889h6v1h-6zM171,890h5v1h-5zM171,891h4v1h-4zM172,892h3v1h-3zM172,893h2v1h-2zM173,894h1v1h-1z" fill="#009900" shape-rendering="crispEdges"/>
<rect x="178" y="894" width="3" height="1" fill="#009900"/>
<rect x="186" y="894" width="3" height="1" fill="#009900"/>
<path d="M179,890h7v1h-7zM180,891h6v1h-6zM181,892h5v1h-5zM181,893h4v1h-4zM182,894h3v1h-3zM182,895h2v1h-2zM183,896h1v1h-1z" fill="#009900" shape-rendering="crispEdges"/>
<rect x="188" y="895" width="3" height="1" fill="#009900"/>
<rect x="196" y="895" width="4" height="1" fill="#009900"/>
<path d="M189,891h7v1h-7zM190,892h6v1h-6zM191,893h5v1h-5zM191,894h4v1h-4zM192,895h3v1h-3zM192,896h2v1h-2zM193,897h1v1h-1z" fill="#009900" shape-rendering="crispEdges"/>
<rect x="199" y="896" width="3" height="1" fill="#009900"/>
<rect x="207" y="896" width="3" height="1" fill="#009900"/>
<path d="M200,892h7v1h-7zM201,893h6v1h-6zM202,894h5v1h-5zM202,895h4v1h-4zM203,896h3v1h-3zM203,897h2v1h-2zM204,898h1v1h-1z" fill="#009900" shape-rendering="crispEdges"/>
<rect x="209" y="896" width="3" height="1" fill="#009900"/>
<rect x="217" y="896" width="3" height="1" fill="#009900"/>
<path d="M210,892h7v1h-7zM211,893h6v1h-6zM212,894h5v1h-5zM212,895h4v1h-4zM213,896h3v1h-3zM213,897h2v1h-2zM214,898h1v1h-1z" fill="#009900" shape-rendering="crispEdges"/>
<rect x="219" y="893" width="3" height="1" fill="#009900"/>
<rect x="227" y="893" width="3" height="1" fill="#009900"/>
<path d="M220,889h7v1h-7zM221,890h6v1h-6zM222,891h5v1h-5zM222,892h4v1h-4zM223,893h3v1h-3zM223,894h2v1h-2zM224,895h1v1h-1z" fill="#009900" shape-rendering="crispEdges"/>
<rect x="229" y="894" width="3" height="1" fill="#009900"/>
<rect x="237" y="894" width="3" height="1" fill="#009900"/>
<path d="M230,890h7v1h-7zM231,891h6v1h-6zM232,892h5v1h-5zM232,893h4v1h-4zM233,894h3v1h-3zM233,895h2v1h-2zM234,896h1v1h-1z" fill="#009900" shape-rendering="crispEdges"/>
<rect x="239" y="894" width="3" height="1" fill="#009900"/>
<rect x="247" y="894" width="4" height="1" fill="#009900"/>
<path d="M240,890h7v1h-7zM241,891h6v1h-6zM242,892h5v1h-5zM242,893h4v1h-4zM243,894h3v1h-3zM243,895h2v1h-2zM244,896h1v1h-1z" fill="#009900" shape-rendering="crispEdges"/>
<rect x="250" y="895" width="3" height="1" fill="#009900"/>
<rect x="258" y="895" width="3" height="1" fill="#009900"/>
<path d="M251,891h7v1h-7zM252,892h6v1h-6zM253,893h5v1h-5zM253,894h4v1h-4zM254,895h3v1h-3zM254,896h2v1h-2zM255,897h1v1h-1z" fill="#009900" shape-rendering="crispEdges"/>
<rect x="260" y="895" width="3" height="1" fill="#009900"/>
<rect x="268" y="895" width="3" height="1" fill="#009900"/>
<path d="M261,891h7v1h-7zM262,892h6v1h-6zM263,893h5v1h-5zM263,894h4v1h-4zM264,895h3v1h-3zM264,896h2v1h-2zM265,897h1v1h-1z" fill="#009900" shape-rendering="crispEdges"/>
<rect x="270" y="895" width="3" height="1" fill="#009900"/>
<rect x="278" y="895" width="3" height="1" fill="#009900"/>
<path d="M271,891h7v1h-7zM272,892h6v1h-6zM273,893h5v1h-5zM273,894h4v1h-4zM274,895h3v1h-3zM274,896h2v1h-2zM275,897h1v1h-1z" fill="#009900" shape-rendering="crispEdges"/>
<rect x="280" y="895" width="3" height="1" fill="#009900"/>
<rect x="288" y="895" width="3" height="1" fill="#009900"/>
<path d="M281,891h7v1h-7zM282,892h6v1h-6zM283,893h5v1h-5zM283,894h4v1h-4zM284,895h3v1h-3zM284,896h2v1h-2zM285,897h1v1h-1z" fill="#009900" shape-rendering="crispEdges"/>
<rect x="290" y="896" width="4" height="1" fill="#009900"/>
<rect x="299" y="896" width="3" height="1" fill="#009900"/>
<path d="M292,892h7v1h-7zM293,893h6v1h-6zM294,894h5v1h-5zM294,895h4v1h-4zM295,896h3v1h-3zM295,897h2v1h-2zM296,898h1v1h-1z" fill="#009900" shape-rendering="crispEdges"/>
<rect x="301" y="896" width="3" height="1" fill="#009900"/>
<rect x="309" y="896" width="3" height="1" fill="#009900"/>
<path d="M302,892h7v1h-7zM303,893h6v1h-6zM304,894h5v1h-5zM304,895h4v1h-4zM305,896h3v1h-3zM305,897h2v1h-2zM306,898h1v1h-1z" fill="#009900" shape-rendering="crispEdges"/>
<rect x="311" y="896" width="3" height="1" fill="#009900"/>
<rect x="319" y="896" width="3" height="1" fill="#009900"/>
<path d="M312,892h7v1h-7zM313,893h6v1h-6zM314,894h5v1h-5zM314,895h4v1h-4zM315,896h3v1h-3zM315,897h2v1h-2zM316,898h1v1h-1z" fill="#009900" shape-rendering="crispEdges"/>
<rect x="321" y="896" width="3" height="1" fill="#009900"/>
<rect x="329" y="896" width="3" height="1" fill="#009900"/>
<path d="M322,892h7v1h-7zM323,893h6v1h-6zM324,894h5v1h-5zM324,895h4v1h-4zM325,896h3v1h-3zM325,897h2v1h-2zM326,898h1v1h-1z" fill="#009900" shape-rendering="crispEdges"/>
<rect x="331" y="896" width="3" height="1" fill="#009900"/>
<rect x="339" y="896" width="3" height="1" fill="#009900"/>
<path d="M332,892h7v1h-7zM333,893h6v1h-6zM334,894h5v1h-5zM334,895h4v1h-4zM335,896h3v1h-3zM335,897h2v1h-2zM336,898h1v1h-1z" fill="#009900" shape-rendering="crispEdges"/>
<rect x="341" y="896" width="4" height="1" fill="#009900"/>
<rect x="350" y="896" width="3" height="1" fill="#009900"/>
<path d="M343,892h7v1h-7zM344,893h6v1h-6zM345,894h5v1h-5zM345,895h4v1h-4zM346,896h3v1h-3zM346,897h2v1h-2zM347,898h1v1h-1z" fill="#009900" shape-rendering="crispEdges"/>
<rect x="352" y="896" width="3" height="1" fill="#009900"/>
<rect x="360" y="896" width="3" height="1" fill="#009900"/>
<path d="M353,892h7v1h-7zM354,893h6v1h-6zM355,894h5v1h-5zM355,895h4v1h-4zM356,896h3v1h-3zM356,897h2v1h-2zM357,898h1v1h-1z" fill="#009900" shape-rendering="crispEdges"/>
<rect x="362" y="896" width="3" height="1" fill="#009900"/>
<rect x="370" y="896" width="3" height="1" fill="#009900"/>
<path d="M363,892h7v1h-7zM364,893h6v1h-6zM365,894h5v1h-5zM365,895h4v1h-4zM366,896h3v1h-3zM366,897h2v1h-2zM367,898h1v1h-1z" fill="#009900" shape-rendering="crispEdges"/>
<rect x="372" y="896" width="3" height="1" fill="#009900"/>
<rect x="380" y="896" width="3" height="1" fill="#009900"/>
<path d="M373,892h7v1h-7zM374,893h6v1h-6zM375,894h5v1h-5zM375,895h4v1h-4zM376,896h3v1h-3zM376,897h2v1h-2zM377,898h1v1h-1z" fill="#009900" shape-rendering="crispEdges"/>
<rect x="393" y="896" width="3" height="1" fill="#009900"/>
<rect x="401" y="896" width="3" height="1" fill="#009900"/>
<path d="M394,892h7v1h-7zM395,893h6v1h-6zM396,894h5v1h-5zM396,895h4v1h-4zM397,896h3v1h-3zM397,897h2v1h-2zM398,898h1v1h-1z" fill="#009900" shape-rendering="crispEdges"/>
<rect x="413" y="896" width="3" height="1" fill="#009900"/>
<rect x="421" y="896" width="3" height="1" fill="#009900"/>
<path d="M414,892h7v1h-7zM415,893h6v1h-6zM416,894h5v1h-5zM416,895h4v1h-4zM417,896h3v1h-3zM417,897h2v1h-2zM418,898h1v1h-1z" fill="#009900" shape-rendering="crispEdges"/>
<rect x="454" y="896" width="3" height="1" fill="#009900"/>
<rect x="462" y="896" width="3" height="1" fill="#009900"/>
<path d="M455,892h7v1h-7zM456,893h6v1h-6zM457,894h5v1h-5zM457,895h4v1h-4zM458,896h3v1h-3zM458,897h2v1h-2zM459,898h1v1h-1z" fill="#009900" shape-rendering="crispEdges"/>
</g><g id="kaon">
<rect x="127" y="895" width="1" height="1" fill="#990099"/>
<rect x="134" y="895" width="4" height="1" fill="#990099"/>
<rect x="128" y="891" width="6" height="6" fill="#990099"/>
<rect x="137" y="893" width="1" height="1" fill="#990099"/>
<rect x="144" y="893" width="5" height="1" fill="#990099"/>
<rect x="138" y="889" width="6" height="6" fill="#990099"/>
<rect x="148" y="887" width="1" height="1" fill="#990099"/>
<rect x="155" y="887" width="4" height="1" fill="#990099"/>
<rect x="149" y="883" width="6" height="6" fill="#990099"/>
<rect x="158" y="889" width="1" height="1" fill="#990099"/>
<rect x="165" y="889" width="4" height="1" fill="#990099"/>
<rect x="159" y="885" width="6" height="6" fill="#990099"/>
<rect x="168" y="891" width="1" height="1" fill="#990099"/>
<rect x="175" y="891" width="4" height="1" fill="#990099"/>
<rect x="169" y="887" width="6" height="6" fill="#990099"/>
<rect x="178" y="893" width="1" height="1" fill="#990099"/>
<rect x="185" y="893" width="4" height="1" fill="#990099"/>
<rect x="179" y="889" width="6" height="6" fill="#990099"/>
<rect x="188" y="894" width="1" height="1" fill="#990099"/>
<rect x="195" y="894" width="5" height="1" fill="#990099"/>
<rect x="189" y="890" width="6" height="6" fill="#990099"/>
<rect x="199" y="895" width="1" height="1" fill="#990099"/>
<rect x="206" y="895" width="4" height="1" fill="#990099"/>
<rect x="200" y="891" width="6" height="6" fill="#990099"/>
<rect x="209" y="895" width="1" height="1" fill="#990099"/>
<rect x="216" y="895" width="4" height="1" fill="#990099"/>
<rect x="210" y="891" width="6" height="6" fill="#990099"/>
<rect x="219" y="894" width="1" height="1" fill="#990099"/>
<rect x="226" y="894" width="4" height="1" fill="#990099"/>
<rect x="220" y="890" width="6" height="6" fill="#990099"/>
<rect x="229" y="894" width="1" height="1" fill="#990099"/>
<rect x="236" y="894" width="4" height="1" fill="#990099"/>
<rect x="230" y="890" width="6" height="6" fill="#990099"/>
<rect x="239" y="895" width="1" height="1" fill="#990099"/>
<rect x="246" y="895" width="5" height="1" fill="#990099"/>
<rect x="240" y="891" width="6" height="6" fill="#990099"/>
<rect x="251" y="892" width="6" height="6" fill="#990099"/>
<rect x="261" y="892" width="6" height="6" fill="#990099"/>
<rect x="271" y="892" width="6" height="6" fill="#990099"/>
</g><g id="proton">
<rect x="127" y="896" width="1" height="1" fill="#66cccc"/>
<rect x="135" y="896" width="3" height="1" fill="#66cccc"/>
<path d="M130,892h3v1h-3zM130,893h3v1h-3zM128,894h7v1h-7zM128,895h7v1h-7zM128,896h7v1h-7zM130,897h3v1h-3zM130,898h3v1h-3z" fill="#66cccc" shape-rendering="crispEdges"/>
<rect x="137" y="893" width="1" height="1" fill="#66cccc"/>
<rect x="145" y="893" width="4" height="1" fill="#66cccc"/>
<path d="M140,889h3v1h-3zM140,890h3v1h-3zM138,891h7v1h-7zM138,892h7v1h-7zM138,893h7v1h-7zM140,894h3v1h-3zM140,895h3v1h-3z" fill="#66cccc" shape-rendering="crispEdges"/>
<rect x="148" y="888" width="1" height="1" fill="#66cccc"/>
<rect x="156" y="888" width="3" height="1" fill="#66cccc"/>
<path d="M151,884h3v1h-3zM151,885h3v1h-3zM149,886h7v1h-7zM149,887h7v1h-7zM149,888h7v1h-7zM151,889h3v1h-3zM151,890h3v1h-3z" fill="#66cccc" shape-rendering="crispEdges"/>
<rect x="158" y="890" width="1" height="1" fill="#66cccc"/>
<rect x="166" y="890" width="3" height="1" fill="#66cccc"/>
<path d="M161,886h3v1h-3zM161,887h3v1h-3zM159,888h7v1h-7zM159,889h7v1h-7zM159,890h7v1h-7zM161,891h3v1h-3zM161,892h3v1h-3z" fill="#66cccc" shape-rendering="crispEdges"/>
<rect x="168" y="892" width="1" height="1" fill="#66cccc"/>
<rect x="176" y="892" width="3" height="1" fill="#66cccc"/>
<path d="M171,888h3v1h-3zM171,889h3v1h-3zM169,890h7v1h-7zM169,891h7v1h-7zM169,892h7v1h-7zM171,893h3v1h-3zM171,894h3v1h-3z" fill="#66cccc" shape-rendering="crispEdges"/>
<rect x="178" y="893" width="1" height="1" fill="#66cccc"/>
<rect x="186" y="893" width="3" height="1" fill="#66cccc"/>
<path d="M181,889h3v1h-3zM181,890h3v1h-3zM179,891h7v1h-7zM179,892h7v1h-7zM179,893h7v1h-7zM181,894h3v1h-3zM181,895h3v1h-3z" fill="#66cccc" shape-rendering="crispEdges"/>
<rect x="188" y="894" width="1" height="1" fill="#66cccc"/>
<rect x="196" y="894" width="4" height="1" fill="#66cccc"/>
<path d="M191,890h3v1h-3zM191,891h3v1h-3zM189,892h7v1h-7zM189,893h7v1h-7zM189,894h7v1h-7zM191,895h3v1h-3zM191,896h3v1h-3z" fill="#66cccc" shape-rendering="crispEdges"/>
<rect x="199" y="895" width="1" height="1" fill="#66cccc"/>
<rect x="207" y="895" width="3" height="1" fill="#66cccc"/>
<path d="M202,891h3v1h-3zM202,892h3v1h-3zM200,893h7v1h-7zM200,894h7v1h-7zM200,895h7v1h-7zM202,896h3v1h-3zM202,897h3v1h-3z" fill="#66cccc" shape-rendering="crispEdges"/>
<rect x="209" y="895" width="1" height="1" fill="#66cccc"/>
<rect x="217" y="895" width="3" height="1" fill="#66cccc"/>
<path d="M212,891h3v1h-3zM212,892h3v1h-3zM210,893h7v1h-7zM210,894h7v1h-7zM210,895h7v1h-7zM212,896h3v1h-3zM212,897h3v1h-3z" fill="#66cccc" shape-rendering="crispEdges"/>
<rect x="219" y="894" width="1" height="1" fill="#66cccc"/>
<rect x="227" y="894" width="3" height="1" fill="#66cccc"/>
<path d="M222,890h3v1h-3zM222,891h3v1h-3zM220,892h7v1h-7zM220,893h7v1h-7zM220,894h7v1h-7zM222,895h3v1h-3zM222,896h3v1h-3z" fill="#66cccc" shape-rendering="crispEdges"/>
<rect x="229" y="894" width="1" height="1" fill="#66cccc"/>
<rect x="237" y="894" width="3" height="1" fill="#66cccc"/>
<path d="M232,890h3v1h-3zM232,891h3v1h-3zM230,892h7v1h-7zM230,893h7v1h-7zM230,894h7v1h-7zM232,895h3v1h-3zM232,896h3v1h-3z" fill="#66cccc" shape-rendering="crispEdges"/>
<rect x="239" y="895" width="1" height="1" fill="#66cccc"/>
<rect x="247" y="895" width="4" height="1" fill="#66cccc"/>
<path d="M242,891h3v1h-3zM242,892h3v1h-3zM240,893h7v1h-7zM240,894h7v1h-7zM240,895h7v1h-7zM242,896h3v1h-3zM242,897h3v1h-3z" fill="#66cccc" shape-rendering="crispEdges"/>
<rect x="250" y="895" width="1" height="1" fill="#66cccc"/>
<rect x="258" y="895" width="3" height="1" fill="#66cccc"/>
<path d="M253,891h3v1h-3zM253,892h3v1h-3zM251,893h7v1h-7zM251,894h7v1h-7zM251,895h7v1h-7zM253,896h3v1h-3zM253,897h3v1h-3z" fill="#66cccc" shape-rendering="crispEdges"/>
<rect x="260" y="895" width="1" height="1" fill="#66cccc"/>
<rect x="268" y="895" width="3" height="1" fill="#66cccc"/>
<path d="M263,891h3v1h-3zM263,892h3v1h-3zM261,893h7v1h-7zM261,894h7v1h-7zM261,895h7v1h-7zM263,896h3v1h-3zM263,897h3v1h-3z" fill="#66cccc" shape-rendering="crispEdges"/>
<rect x="270" y="896" width="1" height="1" fill="#66cccc"/>
<rect x="278" y="896" width="3" height="1" fill="#66cccc"/>
<path d="M273,892h3v1h-3zM273,893h3v1h-3zM271,894h7v1h-7zM271,895h7v1h-7zM271,896h7v1h-7zM273,897h3v1h-3zM273,898h3v1h-3z" fill="#66cccc" shape-rendering="crispEdges"/>
<rect x="341" y="896" width="2" height="1" fill="#66cccc"/>
<rect x="350" y="896" width="3" height="1" fill="#66cccc"/>
<path d="M345,892h3v1h-3zM345,893h3v1h-3zM343,894h7v1h-7zM343,895h7v1h-7zM343,896h7v1h-7zM345,897h3v1h-3zM345,898h3v1h-3z" fill="#66cccc" shape-rendering="crispEdges"/>
</g>
<g id="legend">
<rect x="599" y="250" width="87" height="3" fill="#000"/>
<rect x="683" y="105" width="3" height="148" fill="#000"/>
<rect x="593" y="99" width="90" height="151" fill="#fff"/>
<rect x="593" y="99" width="90" height="1" fill="#000"/>
<rect x="593" y="249" width="90" height="1" fill="#000"/>
<rect x="593" y="99" width="1" height="151" fill="#000"/>
<rect x="682" y="99" width="1" height="151" fill="#000"/>
<path d="M598,109h1v1h-1zM597,110h2v1h-2zM597,111h3v1h-3zM596,112h4v1h-4zM596,113h5v1h-5zM595,114h6v1h-6z" fill="#ff0000" shape-rendering="crispEdges"/>
<path transform="translate(598.55,136.40)" d="M0,-4.0Q3.05,-3.05 4.0,0Q3.05,3.05 0,4.0Q-3.05,3.05 -4.0,0Q-3.05,-3.05 0,-4.0z" fill="#0000ff"/>
<path d="M594,157h7v1h-7zM595,158h6v1h-6zM596,159h5v1h-5zM596,160h4v1h-4zM597,161h3v1h-3zM597,162h2v1h-2zM598,163h1v1h-1z" fill="#009900" shape-rendering="crispEdges"/>
<rect x="594" y="182" width="6" height="6" fill="#990099"/>
<path d="M596,207h3v1h-3zM596,208h3v1h-3zM594,209h7v1h-7zM594,210h7v1h-7zM594,211h7v1h-7zM596,212h3v1h-3zM596,213h3v1h-3z" fill="#66cccc" shape-rendering="crispEdges"/>
<path d="M598,233h1v1h-1zM597,234h2v1h-2zM596,235h4v1h-4zM595,236h5v1h-5zM596,237h4v1h-4zM597,238h2v1h-2z" fill="#000000" shape-rendering="crispEdges"/>
<text transform="translate(603.5,116.75) rotate(0.05)" font-size="19.2">Electron</text>
<text transform="translate(603.5,141.75) rotate(0.05)" font-size="19.2">Muon</text>
<text transform="translate(603.5,166.75) rotate(0.05)" font-size="19.2">Pion</text>
<text transform="translate(603.5,191.75) rotate(0.05)" font-size="19.2">Kaon</text>
<text transform="translate(603.5,216.75) rotate(0.05)" font-size="19.2">Proton</text>
<text transform="translate(603.5,241.75) rotate(0.05)" font-size="19.2">Ghost</text>
</g>
<g id="labels">
<text transform="translate(121.95,907.77) rotate(0.05) scale(1.04,1.078)" font-size="28.3" text-anchor="end">0</text>
<text transform="translate(121.45,827.77) rotate(0.05) scale(1.02,1.078)" font-size="28.3" text-anchor="end">10</text>
<text transform="translate(121.45,748.77) rotate(0.05) scale(1.02,1.078)" font-size="28.3" text-anchor="end">20</text>
<text transform="translate(121.45,668.77) rotate(0.05) scale(1.02,1.078)" font-size="28.3" text-anchor="end">30</text>
<text transform="translate(121.45,588.77) rotate(0.05) scale(1.02,1.078)" font-size="28.3" text-anchor="end">40</text>
<text transform="translate(121.45,509.77) rotate(0.05) scale(1.02,1.078)" font-size="28.3" text-anchor="end">50</text>
<text transform="translate(121.45,429.77) rotate(0.05) scale(1.02,1.078)" font-size="28.3" text-anchor="end">60</text>
<text transform="translate(121.45,349.77) rotate(0.05) scale(1.02,1.078)" font-size="28.3" text-anchor="end">70</text>
<text transform="translate(121.45,269.77) rotate(0.05) scale(1.02,1.078)" font-size="28.3" text-anchor="end">80</text>
<text transform="translate(121.45,190.77) rotate(0.05) scale(1.02,1.078)" font-size="28.3" text-anchor="end">90</text>
<text transform="translate(122.05,110.77) rotate(0.05) scale(0.995,1.078)" font-size="28.3" text-anchor="end">100</text>
<text transform="translate(326.76,935.57) rotate(0.05) scale(1.0,1.075)" font-size="28.4" text-anchor="middle">20</text>
<text transform="translate(529.82,935.57) rotate(0.05) scale(1.0,1.075)" font-size="28.4" text-anchor="middle">40</text>
<text transform="translate(732.52,935.57) rotate(0.05) scale(1.0,1.075)" font-size="28.4" text-anchor="middle">60</text>
<text transform="translate(934.43,935.57) rotate(0.05) scale(1.0,1.075)" font-size="28.4" text-anchor="middle">80</text>
<text transform="translate(1138.59,935.57) rotate(0.05) scale(1.0,1.075)" font-size="28.4" text-anchor="middle">100</text>
<text transform="translate(1149.0,901.3) rotate(0.05)" font-size="38" style="font-family:'Liberation Serif',serif;font-weight:normal">×</text>
<text transform="translate(1167.3,896.3) rotate(0.05) scale(1,1.075)" font-size="28">10<tspan dx="-0.5" dy="-13" font-size="19.3">3</tspan></text>
<text transform="translate(1149.3,971.4) rotate(0.05) scale(1.002,1.075)" font-size="28" text-anchor="end">Upstream Electron Momentum / MeV/c</text>
<text transform="translate(48.5,98.3) rotate(-89.96) scale(1.0,1.075)" font-size="28" text-anchor="end">Efficiency / %</text>
<text x="91.8" y="42.6" font-size="7.9" textLength="1091.8" lengthAdjust="spacingAndGlyphs">Upstream Electron ID Eff. V TrackP | MVAout &gt; 0.5000 | All NaturalMix AllPhysTracksInEvent:AllPhysTracksInEvent ReweightRICH2 EvalWithPreSel | Train:MC12MixtureGhosts GhF0.01 Eval:MC2015Sim09Dev03MixtureGhosts | TMVA-Run2-NoTkLikCDVelodEdx | MLP Norm BP NCycles750 CE tanh SF1.2 CVTest15:1e-16 !UseReg</text>
</g>
</svg>
</body>
</html>
